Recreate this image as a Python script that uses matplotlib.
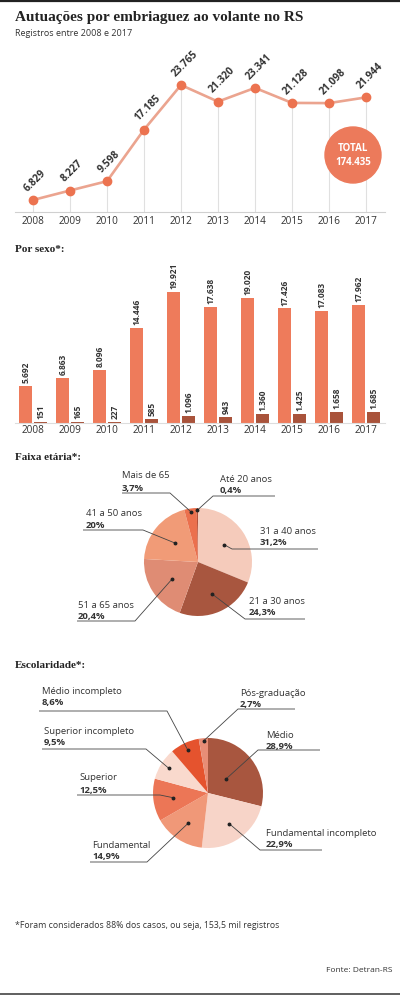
import matplotlib.pyplot as plt
import matplotlib.patches as mpatches
import numpy as np

plt.rcParams['font.family'] = ['Open Sans', 'DejaVu Sans']

# data
years = ['2008', '2009', '2010', '2011', '2012', '2013', '2014', '2015', '2016', '2017']
total = [6829, 8227, 9598, 17185, 23765, 21320, 23341, 21128, 21098, 21944]
total_sum = '174.435'
homens = [5692, 6863, 8096, 14446, 19921, 17638, 19020, 17426, 17083, 17962]
mulheres = [151, 165, 227, 585, 1096, 943, 1360, 1425, 1658, 1685]

idade_labels = ['31 a 40 anos', '21 a 30 anos', '51 a 65 anos', '41 a 50 anos', 'Mais de 65', 'Até 20 anos']
idade_pct = [31.2, 24.3, 20.4, 20.0, 3.7, 0.4]

escola_labels = ['Médio', 'Fundamental incompleto', 'Fundamental', 'Superior',
                 'Superior incompleto', 'Médio incompleto', 'Pós-graduação']
escola_pct = [28.9, 22.9, 14.9, 12.5, 9.5, 8.6, 2.7]

W, H = 400, 1000
txt = '#333333'

def box(x0, y0, x1, y1):
  # pixel box (top-left origin) -> figure fraction
  return [x0 / W, 1 - y1 / H, (x1 - x0) / W, (y1 - y0) / H]

def br(v):
  return f'{v:,}'.replace(',', '.')

def pct(v):
  s = f'{v:.1f}'.replace('.', ',')
  if s.endswith(',0'):
    s = s[:-2]
  return s + '%'

fig = plt.figure(figsize=(4, 10), dpi=100)
fig.patch.set_facecolor('white')

x = np.arange(len(years))
xlim = (-0.486, 9.514)

# ---- line chart
ax = fig.add_axes(box(15, 40, 385, 212))
y0 = 5062
ax.set_xlim(*xlim)
ax.set_ylim(y0, y0 + 172 / 0.00679)
ax.vlines(x, y0, total, color='#e0e0e0', lw=0.8, zorder=1)
ax.plot(x, total, color='#eba48f', lw=1.9, zorder=2)
ax.plot(x, total, 'o', ms=6, color='#ec7350', zorder=3)
for xi, v in zip(x, total):
  ax.annotate(br(v), (xi, v), xytext=(-2.5, 4.5), textcoords='offset points',
              rotation=45, rotation_mode='anchor', ha='left', va='bottom',
              fontsize=7.3, fontweight='bold', color=txt, annotation_clip=False)
for s in ['top', 'right', 'left']:
  ax.spines[s].set_visible(False)
ax.spines['bottom'].set_color('#d0d0d0')
ax.spines['bottom'].set_linewidth(0.8)
ax.set_yticks([])
ax.set_xticks(x, years)
ax.tick_params(axis='x', length=0, pad=3, labelsize=7.2, labelcolor=txt)
ax.patch.set_alpha(0)

# ---- bars por sexo
bx = fig.add_axes(box(15, 260, 385, 423))
bx.set_xlim(*xlim)
bx.set_ylim(0, 163 / 0.00658)
bx.bar(x - 0.19, homens, 0.35, color='#ee7b5b')
bx.bar(x + 0.215, mulheres, 0.35, color='#a9533b')
for xi, v in zip(x, homens):
  bx.annotate(br(v), (xi - 0.19, v), xytext=(0, 2), textcoords='offset points',
              rotation=90, ha='center', va='bottom', fontsize=6,
              fontweight='bold', color=txt, annotation_clip=False)
for xi, v in zip(x, mulheres):
  bx.annotate(br(v), (xi + 0.215, v), xytext=(0, 2), textcoords='offset points',
              rotation=90, ha='center', va='bottom', fontsize=6,
              fontweight='bold', color=txt, annotation_clip=False)
for s in ['top', 'right', 'left']:
  bx.spines[s].set_visible(False)
bx.spines['bottom'].set_color('#dddddd')
bx.spines['bottom'].set_linewidth(0.8)
bx.set_yticks([])
bx.set_xticks(x, years)
bx.tick_params(axis='x', length=0, pad=1.5, labelsize=7.2, labelcolor=txt)
bx.patch.set_alpha(0)

# ---- pies
def draw_pie(cx, cy, R, vals, colors):
  p = fig.add_axes(box(cx - R, cy - R, cx + R, cy + R))
  p.pie(vals, colors=colors, startangle=90, counterclock=False,
        wedgeprops=dict(linewidth=0))
  p.set_xlim(-1, 1)
  p.set_ylim(-1, 1)
  p.set_aspect('equal')
  p.axis('off')
  # mid angles of the wedges (degrees, math convention)
  cum = np.cumsum([0] + list(vals))[:-1]
  mids = 90 - 360 * (cum + np.array(vals) / 2) / sum(vals)
  return mids

ov = fig.add_axes([0, 0, 1, 1], zorder=10)
ov.set_xlim(0, W)
ov.set_ylim(H, 0)
ov.axis('off')

def leaders(cx, cy, R, mids, rf, elbows, ends, texts, names, vals):
  for m, r, (ex, ey), xe, (tx, t1, t2), nm, v in zip(mids, rf, elbows, ends, texts, names, vals):
    a = np.radians(m)
    px = cx + r * R * np.cos(a)
    py = cy - r * R * np.sin(a)
    ov.plot([px, ex, xe], [py, ey, ey], color='#444444', lw=0.6, solid_capstyle='butt')
    ov.plot(px, py, 'o', ms=1.8, color='#222222')
    ov.text(tx, t1, nm, fontsize=6.8, color=txt, va='center', ha='left')
    ov.text(tx, t2, pct(v), fontsize=6.8, color=txt, va='center', ha='left', fontweight='bold')

c1 = ['#f5cbbb', '#a8563f', '#df8c74', '#f19b77', '#eb704d', '#b4513a']
m1 = draw_pie(198, 562, 54, idade_pct, c1)
leaders(198, 562, 54, m1,
        [0.58, 0.65, 0.58, 0.56, 0.94, 0.96],
        [(232, 549), (245, 619), (135, 621), (143, 530), (170, 493), (213, 496)],
        [318, 305, 77, 83, 122, 275],
        [(260, 532, 543), (249, 601, 613), (78, 605, 617), (86, 514, 526),
         (122, 476, 488), (220, 479, 491)],
        idade_labels, idade_pct)

c2 = ['#a8563f', '#f7d4c8', '#f09878', '#ec7656', '#f9d9cd', '#e5532e', '#e78d76']
m2 = draw_pie(208, 793, 55, escola_pct, c2)
leaders(208, 793, 55, m2,
        [0.42, 0.68, 0.66, 0.65, 0.84, 0.86, 0.95],
        [(258, 750), (260, 850), (147, 862), (160, 795), (146, 749), (167, 711), (238, 709)],
        [320, 322, 90, 77, 42, 39, 295],
        [(266, 735, 746), (266, 833, 844), (92, 846, 857), (79, 778, 790),
         (44, 731, 743), (42, 691, 703), (240, 693, 705)],
        escola_labels, escola_pct)

# ---- total circle
ov.add_patch(mpatches.Circle((353, 155), 28, color='#ec7a5b', zorder=5))
ov.text(353, 148.5, 'TOTAL', color='white', fontsize=7, fontweight='bold',
        ha='center', va='center', zorder=6)
ov.text(353, 162.5, total_sum, color='white', fontsize=7, fontweight='bold',
        ha='center', va='center', zorder=6)

# ---- titles and notes
serif = 'Liberation Serif'
ov.plot([0, W], [1, 1], color='#222222', lw=1.6)
ov.plot([0, W], [994, 994], color='#444444', lw=1.2)
ov.text(15, 17, 'Autuações por embriaguez ao volante no RS', family=serif,
        fontweight='bold', fontsize=11, color='#222222', va='center')
ov.text(15, 34, 'Registros entre 2008 e 2017', fontsize=6.5, color=txt, va='center')
ov.text(15, 249, 'Por sexo*:', family=serif, fontweight='bold', fontsize=8,
        color='#222222', va='center')
ov.text(15, 457, 'Faixa etária*:', family=serif, fontweight='bold', fontsize=8,
        color='#222222', va='center')
ov.text(15, 665, 'Escolaridade*:', family=serif, fontweight='bold', fontsize=8,
        color='#222222', va='center')
ov.text(15, 925, '*Foram considerados 88% dos casos, ou seja, 153,5 mil registros',
        fontsize=6.3, color=txt, va='center')
ov.text(393, 970, 'Fonte: Detran-RS', fontsize=6, color=txt, va='center', ha='right')

fig.savefig('out.png', dpi=100)
